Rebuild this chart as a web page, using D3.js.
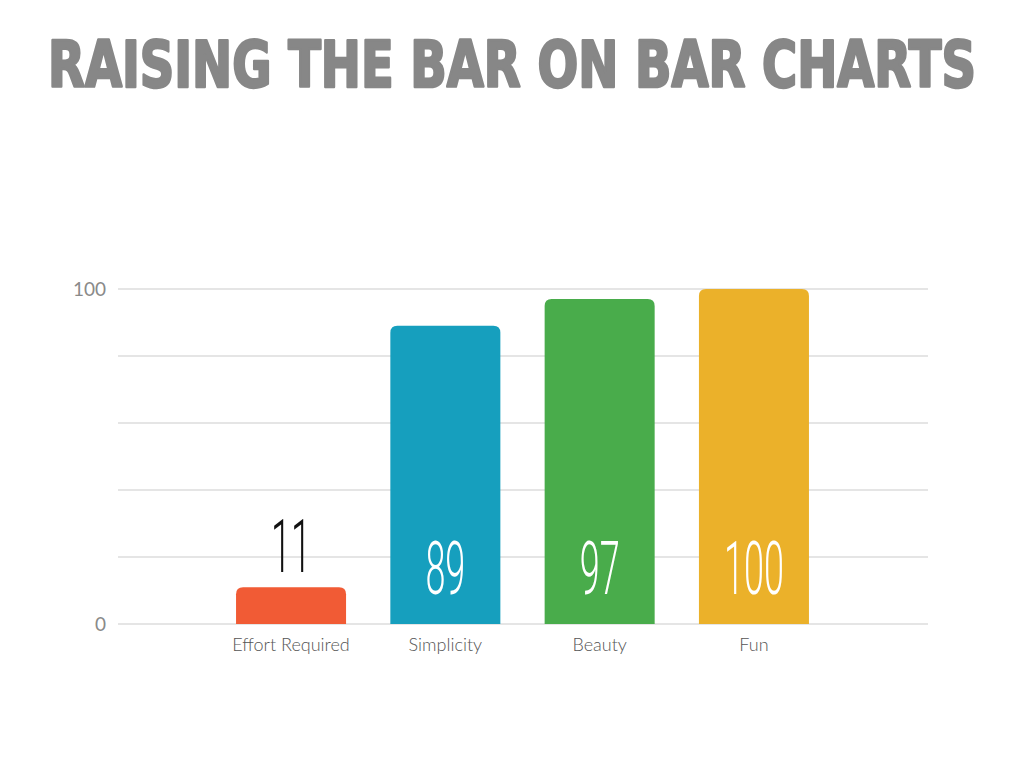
<!DOCTYPE html>
<html>
<head>
<meta charset="utf-8">
<script src="https://cdn.jsdelivr.net/npm/d3@7"></script>
<style>
  body { margin: 0; background: #fff; }
  svg { display: block; }
</style>
</head>
<body>
<svg></svg>
<script>
const width = 1024;
const height = 768;

// data
const categories = ["Effort Required", "Simplicity", "Beauty", "Fun"];
const values = [11, 89, 97, 100];
const barColors = ["#F15B35", "#169FBE", "#49AC4B", "#EBB12A"];
const yTickLabels = [0, 100];
const gridValues = [0, 20, 40, 60, 80, 100];

const svg = d3.select("svg")
  .attr("width", width)
  .attr("height", height);

// title
svg.append("text")
  .attr("x", 48)
  .attr("y", 87)
  .attr("textLength", 928)
  .attr("lengthAdjust", "spacingAndGlyphs")
  .style("font-family", "'DejaVu Sans Condensed', 'DejaVu Sans', sans-serif")
  .style("font-weight", "bold")
  .style("font-size", "64px")
  .style("fill", "#878787")
  .style("stroke", "#878787")
  .style("stroke-width", 2.5)
  .style("stroke-linejoin", "round")
  .text("RAISING THE BAR ON BAR CHARTS");

const gridLeft = 118, gridRight = 928;

// scales
const y = d3.scaleLinear().domain([0, 100]).range([624, 289]);
const x = d3.scaleBand()
  .domain(categories)
  .range([213.9, 831.1])
  .paddingInner(0.287)
  .paddingOuter(0.1435);

// grid
svg.append("g")
  .selectAll("line")
  .data(gridValues)
  .join("line")
  .attr("x1", gridLeft)
  .attr("x2", gridRight)
  .attr("y1", d => y(d))
  .attr("y2", d => y(d))
  .style("stroke", "#dcdcdc")
  .style("stroke-width", 1.5);

// y labels
svg.append("g")
  .selectAll("text")
  .data(yTickLabels)
  .join("text")
  .attr("x", 106)
  .attr("y", d => y(d) + 7)
  .attr("text-anchor", "end")
  .style("font-family", "Lato, sans-serif")
  .style("font-size", "19px")
  .style("fill", "#8a8a8a")
  .text(d => d);

// bars with rounded tops
const r = 7;
function barPath(x0, w, top, bottom) {
  return `M${x0},${bottom} V${top + r} Q${x0},${top} ${x0 + r},${top} H${x0 + w - r} Q${x0 + w},${top} ${x0 + w},${top + r} V${bottom} Z`;
}

const data = categories.map((c, i) => ({ c, v: values[i], color: barColors[i] }));

svg.append("g")
  .selectAll("path")
  .data(data)
  .join("path")
  .attr("d", d => barPath(x(d.c), x.bandwidth(), y(d.v), y(0)))
  .style("fill", d => d.color);

// value labels: thin condensed digits
svg.append("g")
  .selectAll("text")
  .data(data)
  .join("text")
  .attr("transform", d => {
    const cx = x(d.c) + x.bandwidth() / 2;
    const by = d.v < 20 ? y(d.v) - 15 : y(0) - 30;
    return `translate(${cx},${by}) scale(0.48,1)`;
  })
  .attr("text-anchor", "middle")
  .style("font-family", "Roboto, sans-serif")
  .style("font-weight", 300)
  .style("font-size", "75px")
  .style("fill", d => d.v < 20 ? "#111" : "#fff")
  .text(d => d.v);

// category labels
svg.append("g")
  .selectAll("text")
  .data(data)
  .join("text")
  .attr("x", d => x(d.c) + x.bandwidth() / 2)
  .attr("y", 651)
  .attr("text-anchor", "middle")
  .style("font-family", "Lato, sans-serif")
  .style("font-weight", 300)
  .style("font-size", "18px")
  .style("fill", "#555")
  .text(d => d.c);
</script>
</body>
</html>
